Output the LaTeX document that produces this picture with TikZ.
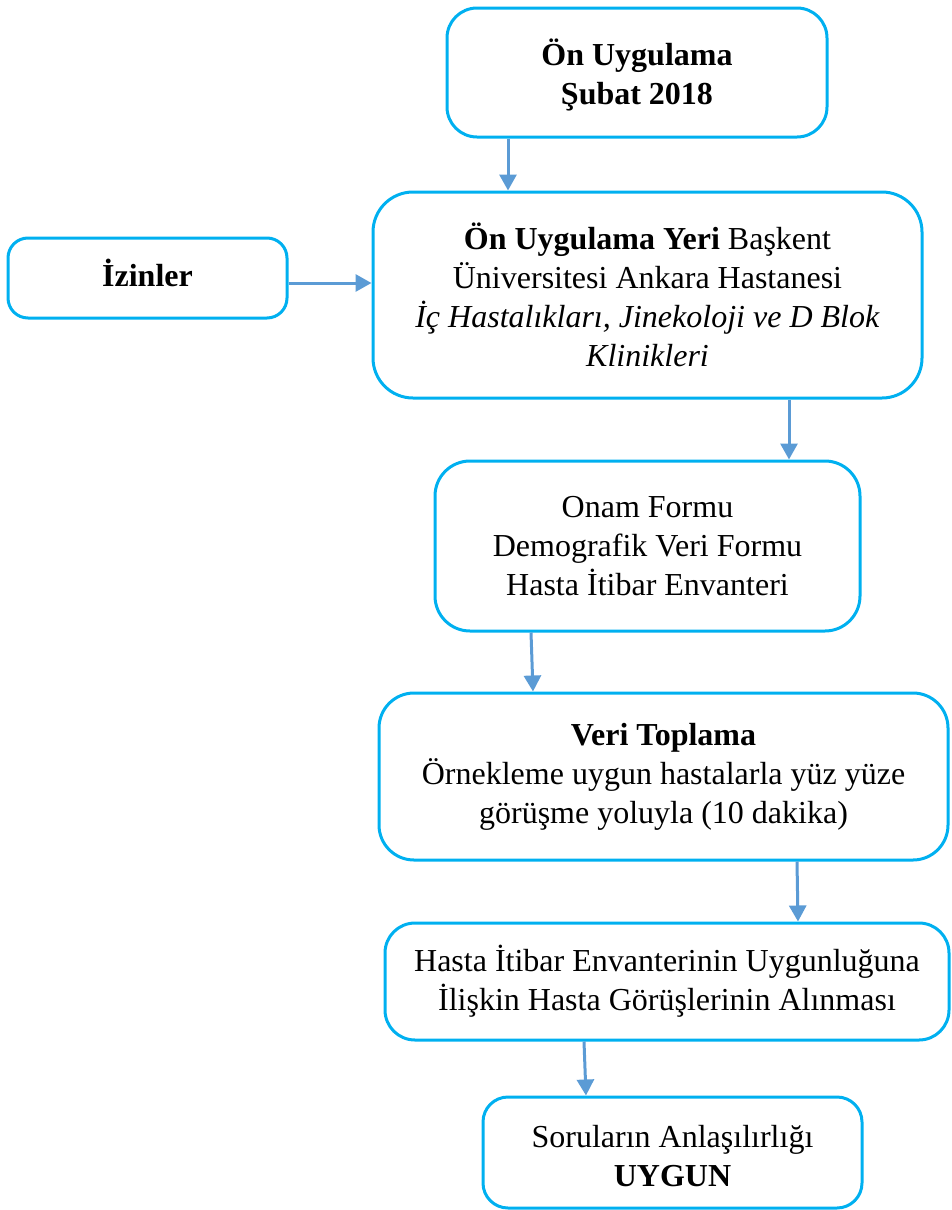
\documentclass[tikz,border=0pt]{standalone}
\usepackage{fontspec}
\setmainfont{Liberation Serif}
\usetikzlibrary{arrows.meta}
\definecolor{boxc}{HTML}{00B0F0}
\definecolor{arrc}{HTML}{5B9BD5}
\begin{document}
\begin{tikzpicture}[x=1pt,y=-1pt,
  box/.style={draw=boxc, line width=3pt, rounded corners=#1, align=center, inner sep=0pt,
    font=\fontsize{32}{39}\selectfont},
  box/.default=30pt,
  lbl/.style={align=center, inner sep=0pt, font=\fontsize{32}{39}\selectfont},
  arr/.style={draw=arrc, line width=3pt, -{Triangle[length=16pt,width=17pt]}}]
\useasboundingbox (0,0) rectangle (951,1210);
\node[box=30pt, minimum width=380pt, minimum height=129pt,
  label={[lbl, yshift=-2pt]center:\textbf{Ön Uygulama}\\\textbf{Şubat 2018}}] (b1) at (637,72.5) {};
\node[box=40pt, minimum width=549pt, minimum height=206pt] (b2) at (647.5,295)
  {\textbf{Ön Uygulama Yeri} Başkent\\Üniversitesi Ankara Hastanesi\\\textit{İç Hastalıkları, Jinekoloji ve D Blok}\\\textit{Klinikleri}};
\node[box=20pt, minimum width=279pt, minimum height=80pt,
  label={[lbl, yshift=5pt]center:\textbf{İzinler}}] (iz) at (147.5,278) {};
\node[box=35pt, minimum width=425pt, minimum height=170pt] (b3) at (647.5,546)
  {Onam Formu\\Demografik Veri Formu\\Hasta İtibar Envanteri};
\node[box=35pt, minimum width=569pt, minimum height=167pt] (b4) at (663.5,776.5)
  {\textbf{Veri Toplama}\\Örnekleme uygun hastalarla yüz yüze\\görüşme yoluyla (10 dakika)};
\node[box=30pt, minimum width=564pt, minimum height=117pt] (b5) at (667,981.5)
  {Hasta İtibar Envanterinin Uygunluğuna\\İlişkin Hasta Görüşlerinin Alınması};
\node[box=25pt, minimum width=379pt, minimum height=111pt,
  label={[lbl, yshift=-4pt]center:Soruların Anlaşılırlığı\\\textbf{UYGUN}}] (b6) at (672.5,1152.5) {};
\coordinate (x1) at (508,0);
\coordinate (yA) at (0,283);
\coordinate (x2) at (789,0);
\coordinate (x3a) at (531,0);
\coordinate (x3b) at (533,0);
\coordinate (x4a) at (797,0);
\coordinate (x4b) at (798,0);
\coordinate (x5a) at (584,0);
\coordinate (x5b) at (586,0);
\draw[arr] (b1.south -| x1) -- (b2.north -| x1);
\draw[arr] (iz.east |- yA) -- (b2.west |- yA);
\draw[arr] (b2.south -| x2) -- (b3.north -| x2);
\draw[arr] (b3.south -| x3a) -- (b4.north -| x3b);
\draw[arr] (b4.south -| x4a) -- (b5.north -| x4b);
\draw[arr] (b5.south -| x5a) -- (b6.north -| x5b);
\end{tikzpicture}
\end{document}
